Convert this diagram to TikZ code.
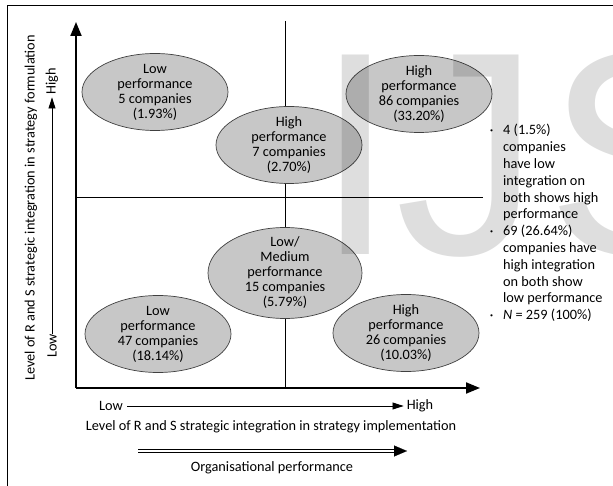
\documentclass[tikz,border=0pt]{standalone}
\usepackage{fontspec}
\setmainfont{Carlito}
\newfontfamily\markfont{Liberation Sans}
\usetikzlibrary{shapes.geometric,arrows.meta}
\newcommand{\bul}{\raisebox{2.5pt}{\fontsize{6}{6}\selectfont\textbullet}}
\begin{document}
\begin{tikzpicture}[x=1pt,y=-1pt,
  perf node/.style={ellipse,draw=black!75,fill=black!22,line width=0.7pt,minimum width=146pt,minimum height=77pt,inner sep=-5pt,align=center,font=\fontsize{14.3}{15}\selectfont},
  axis/.style={line width=2pt,-{Triangle[length=14pt,width=11pt]}},
  thin axis/.style={line width=0.8pt,-{Triangle[length=11pt,width=7pt]}},
  lbl/.style={inner sep=0pt,font=\fontsize{14.3}{15}\selectfont}]
\useasboundingbox (0,0) rectangle (613,486);
% frame
\coordinate (fa) at (7,486);
\coordinate (fb) at (7,6);
\coordinate (fc) at (613,6);
\draw[line width=1pt] (fa) -- (fb) -- (fc);
% axes and quadrants
\coordinate (O) at (76,388);
\coordinate (ytop) at (76,22);
\coordinate (xend) at (480,388);
\coordinate (vtop) at (285,21);
\coordinate (vbot) at (285,388);
\coordinate (hl) at (76,197);
\coordinate (hr) at (483,197);
\draw[line width=0.7pt] (vtop) -- (vbot);
\draw[line width=0.7pt] (hl) -- (hr);
\draw[axis] (O) -- (ytop);
\draw[axis] (O) -- (xend);
\begin{scope}
\node[perf node] (lowA) at (155,92) {Low\\performance\\5 companies\\(1.93\%)};
\node[perf node] (highB) at (289,145) {High\\performance\\7 companies\\(2.70\%)};
\node[perf node] (highC) at (419,94) {High\\performance\\86 companies\\(33.20\%)};
\node[perf node,minimum width=154pt,minimum height=91pt] (medD) at (285,273) {Low/\\Medium\\performance\\15 companies\\(5.79\%)};
\node[perf node] (lowE) at (158,334) {Low\\performance\\47 companies\\(18.14\%)};
\node[perf node] (highF) at (406,333) {High\\performance\\26 companies\\(10.03\%)};
\end{scope}
% vertical axis labels
\node[lbl,rotate=90] (ytitle) at (31,208) {Level of R and S strategic integration in strategy formulation};
\node[lbl,rotate=90] (yhigh) at (52,81) {High};
\node[lbl,rotate=90] (ylow) at (52,346) {Low};
\draw[thin axis] (ylow) -- ([yshift=-3pt]yhigh.west);
% horizontal axis labels
\node[lbl] (xlow) at (111,406) {Low};
\node[lbl] (xhigh) at (420,406) {High};
\draw[thin axis] ([xshift=4pt]xlow.east) -- ([xshift=-3pt]xhigh.west);
\node[lbl] (xtitle) at (271,427) {Level of R and S strategic integration in strategy implementation};
\coordinate (ds) at (138,451);
\coordinate (dk) at (395,451);
\coordinate (de) at (407,451);
\draw[line width=0.8pt] ([yshift=-1.4pt]ds) -- ([yshift=-1.4pt]dk);
\draw[line width=0.8pt] ([yshift=1.4pt]ds) -- ([yshift=1.4pt]dk);
\draw[line width=0.1pt,-{Triangle[length=13pt,width=11pt]}] (dk) -- (de);
\node[lbl] (perf) at (272,468) {Organisational performance};
% notes
\node[inner sep=0pt,anchor=north west,font=\fontsize{14.3}{16.8}\selectfont] (notes) at (490,123) {%
\begin{tabular}{@{}l@{\hspace{10pt}}l@{}}
\bul & 4 (1.5\%)\\
& companies\\
& have low\\
& integration on\\
& both shows high\\
& performance\\
\bul & 69 (26.64\%)\\
& companies have\\
& high integration\\
& on both show\\
& low performance\\
\bul & \textit{N} = 259 (100\%)
\end{tabular}};
% watermark
\node[anchor=base west,inner sep=0pt,text=black,opacity=0.13,font=\markfont\fontsize{290}{290}\selectfont] (mark) at (315,255) {IJ\kern6pt S};
\end{tikzpicture}
\end{document}
